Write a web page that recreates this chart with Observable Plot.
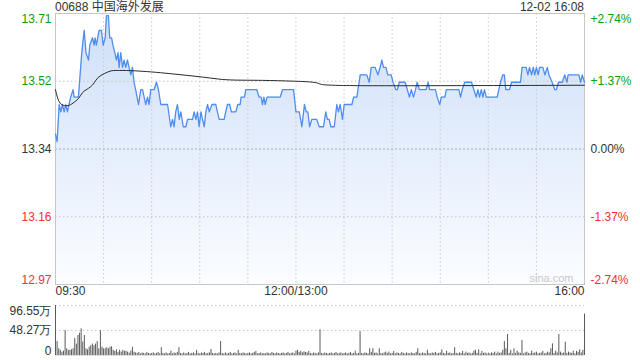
<!DOCTYPE html>
<html><head><meta charset="utf-8">
<script src="https://cdn.jsdelivr.net/npm/d3@7"></script>
<script src="https://cdn.jsdelivr.net/npm/@observablehq/plot@0.6"></script>
<style>
body{margin:0;background:#fff;font-family:Arial,"Liberation Sans","Noto Sans CJK SC",sans-serif;}
#wrap{position:relative;width:640px;height:360px;overflow:hidden;background:#fff}
#wrap svg{position:absolute;left:0}
.t{position:absolute;font-size:12px;color:#333;line-height:14px;z-index:2;white-space:nowrap}
</style></head><body>
<div id="wrap">
<div class="t" id="title" style="left:55px;top:0px"></div>
<div class="t" id="stamp" style="right:56px;top:0px"></div>
</div>
<script>
const stockTitle = "00688 中国海外发展";
const stamp = "12-02 16:08";
const prevClose = 13.34;
const pctSteps = [0.0274, 0.0137, 0, -0.0137, -0.0274];
const priceTickLabels = ["13.71", "13.52", "13.34", "13.16", "12.97"];
const pctTickLabels = ["+2.74%", "+1.37%", "0.00%", "-1.37%", "-2.74%"];
const timeTicks = [0, 150, 330];
const timeTickLabels = ["09:30", "12:00/13:00", "16:00"];
const gridTimes = [30, 60, 90, 120, 150, 180, 210, 240, 270, 300];
const volTicks = [96.55, 48.27, 0];
const volTickLabels = ["96.55万", "48.27万", "0"];

// minutes since 09:30 (lunch break removed) and price
const priceMin = [0,1,2.3,3.3,4.3,5.4,6.4,7.4,8.4,9.5,11,11.6,14.3,15,16.4,17.9,19,20.6,21.4,23.1,24.1,24.7,25.5,27.2,28.7,29.7,31,31.8,33,33.8,35,35.8,37,38,39,39.7,40.7,41.8,42.8,43.8,44.9,45.9,47,48,49,50,51.8,53.2,54.3,55.3,56.3,57.4,58.4,59.4,61.5,63,64.2,65.7,69.9,71.9,73,74,75,76.1,77.2,78.2,79.7,81.3,82.4,85.5,86.5,87.6,88.6,89.6,90.7,91.7,92.8,93.8,94.9,95.9,97.6,100,101,102.1,105.2,106.2,107.3,108.7,109.7,112.5,113.7,115.2,115.8,117.9,118.7,125.6,127,128.3,129.1,130,130.8,132,140.2,141.6,148.5,150,152.1,153.7,155.3,156.4,157.4,158.5,159.9,163,164.5,167.2,168.6,169.6,170.7,171.8,173.9,175.5,176.5,177.6,179,180.1,184.9,186,188,190.1,194.2,195.7,197,199.4,201.1,202.5,203.6,204.6,206.1,207.3,209.4,210.6,212.3,213.3,214.4,218.1,219.5,220.8,222,223.3,224.6,225.6,227,231.2,232.5,233.3,237,238.1,239.7,240.7,242.9,243.8,251.6,252.7,253.7,255.3,259.5,261,262.4,263.5,264.5,265.6,266.6,267.6,268.7,275.5,277.6,279,280,280.9,283.2,284.5,290.1,291.1,293.6,294.7,295.7,297,298,299,300,301.1,302,304,305.3,306.8,307.8,309.8,311.5,312.5,313.8,316.1,317.7,319,319.8,326.5,327.6,328.6,330];
const priceVal = [13.38,13.36,13.46,13.44,13.46,13.44,13.46,13.44,13.46,13.48,13.50,13.48,13.48,13.52,13.60,13.66,13.60,13.58,13.62,13.64,13.62,13.64,13.62,13.66,13.66,13.62,13.64,13.70,13.70,13.64,13.64,13.62,13.60,13.58,13.60,13.56,13.60,13.56,13.58,13.56,13.58,13.56,13.54,13.56,13.52,13.50,13.46,13.50,13.50,13.48,13.46,13.48,13.46,13.50,13.50,13.52,13.50,13.46,13.46,13.40,13.42,13.40,13.44,13.46,13.42,13.44,13.40,13.40,13.42,13.42,13.44,13.42,13.44,13.40,13.44,13.42,13.40,13.44,13.46,13.44,13.46,13.46,13.44,13.42,13.42,13.44,13.46,13.46,13.44,13.44,13.46,13.46,13.48,13.48,13.50,13.50,13.48,13.48,13.46,13.48,13.46,13.48,13.48,13.50,13.50,13.44,13.44,13.40,13.46,13.44,13.44,13.40,13.42,13.42,13.40,13.40,13.44,13.42,13.42,13.40,13.40,13.46,13.44,13.46,13.42,13.46,13.46,13.48,13.48,13.54,13.54,13.52,13.56,13.56,13.54,13.56,13.58,13.56,13.56,13.54,13.54,13.52,13.50,13.50,13.52,13.52,13.50,13.48,13.50,13.48,13.50,13.52,13.50,13.50,13.52,13.50,13.50,13.48,13.46,13.48,13.48,13.50,13.50,13.48,13.50,13.52,13.52,13.50,13.48,13.50,13.48,13.50,13.48,13.50,13.48,13.48,13.52,13.54,13.54,13.50,13.50,13.52,13.52,13.56,13.56,13.54,13.56,13.54,13.56,13.54,13.56,13.54,13.56,13.56,13.54,13.56,13.54,13.52,13.50,13.50,13.52,13.52,13.54,13.52,13.54,13.54,13.52,13.54,13.52];

const avgMin = [0,2.3,8.5,10.6,14.8,16.8,18.9,22,24.1,26.2,30.4,34.5,37.6,46,60.5,70.9,81.3,91.7,102.1,110.4,128.7,149.5,159.9,164,165.1,170.3,191,330];
const avgVal = [13.50,13.456,13.456,13.463,13.476,13.494,13.499,13.5075,13.517,13.534,13.5435,13.5515,13.552,13.552,13.548,13.5435,13.539,13.5343,13.528,13.5255,13.5255,13.523,13.521,13.518,13.514,13.512,13.510,13.512];

// volume per minute (万股), minute 0..330
const volume = [
96.55,27,13,10,6.5,8.4,48,13,10,10,
11,13,33,22,38.6,43,51.5,26,38.6,13,
11,16,19,22,19,22,27,13,48,16,
13,13,15,13,16,17,10,8,11,6,
10,6.5,10,8,8.4,6.5,4.5,8.4,16,6.5,
5,4,6,3,5,4,3,6,4,3,
4,5,3,4,6,3,15,4,3,5,
3,4,8.4,3,5,4,6,15,4,3,
5,3,4,6,3,4,5,3,10,4,
3,5,4,6,3,4,5,11.6,4,3,
4,3,5,27,4,3,5,3,4,6,
3,4,5,3,10,4,3,5,4,3,
4,5,3,4,6,8,3,4,5,3,
4,3,5,4,3,6,4,3,5,4,
3,4,5,3,4,6,3,4,5,3,
8.4,10,6,8,5,7,6,5,8,4,
3,5,4,3,5,49.5,4,3,5,4,
3,4,5,3,4,6,3,4,5,3,
4,5,3,4,6,3,4,8.4,3,4,
46,4,3,5,4,3,13,6,13,4,
5,3,13,4,3,5,6.5,4,6.5,3,
4,8,3,5,4,3,6,4,3,5,
4,3,5,4,3,6,13,4,3,5,
4,3,10,4,3,5,4,6,3,4,
5,11,4,3,8.4,4,5,3,4,15,
4,3,5,4,8,3,6.5,4,5,3,
4,8.4,10,4,11,3,8,4,5,3,
4.5,3,5,4,6.5,3,6.5,4,5,10,
27,13,40.5,4,10,3,13,4,8.4,5,
4,29,3,5,6.5,4,3,8.4,4,5,
6.5,3,4,5,8,3,4,6.5,5,13,
22.5,4,8.4,5,40.5,6.5,4,5,25.7,4,
6.5,5,4,8.4,3,8,6,11,5,10,
80];

document.getElementById("title").textContent = stockTitle;
document.getElementById("stamp").textContent = stamp;

const lo = prevClose * (1 + pctSteps[4]);
const hi = prevClose * (1 + pctSteps[0]);
const priceData = priceMin.map((t, i) => ({t, p: priceVal[i]}));
const avgData = avgMin.map((t, i) => ({t, p: avgVal[i]}));
const volData = volume.map((v, t) => ({t, v}));
const ticks = pctSteps.map((s, i) => ({
  y: prevClose * (1 + s), left: priceTickLabels[i], right: pctTickLabels[i],
  c: s > 0 ? "#0b9e0b" : s < 0 ? "#f03232" : "#333", i
}));
const xt = timeTicks.map((t, i) => ({t, label: timeTickLabels[i], i}));
const grid = "#c8c8c8";
const fontStyle = {fontFamily: "Arial, 'Liberation Sans', sans-serif", fontSize: "12px", background: "transparent"};

const price = Plot.plot({
  width: 640, height: 300, marginLeft: 55, marginRight: 56, marginTop: 13, marginBottom: 16,
  style: fontStyle,
  x: {domain: [0, 330], axis: null},
  y: {domain: [lo, hi], axis: null},
  color: {type: "identity"},
  marks: [
    Plot.areaY(priceData, {x: "t", y1: lo, y2: "p", fill: "url(#pg)", curve: "linear"}),
    Plot.ruleX(gridTimes, {x: d => d, stroke: grid, strokeDasharray: "1.5,2.5"}),
    Plot.ruleY(ticks.filter(d => d.i > 0 && d.i < 4 && d.i !== 2), {y: "y", stroke: grid, strokeDasharray: "1.5,2.5"}),
    Plot.ruleY(ticks.filter(d => d.i === 2), {y: "y", stroke: "#aaa", strokeDasharray: "2,2"}),
    Plot.frame({stroke: "#c6c6c6"}),
    Plot.line(priceData, {x: "t", y: "p", stroke: "#4f8def", strokeWidth: 1.3}),
    Plot.line(avgData, {x: "t", y: "p", stroke: "#2a2a2a", strokeWidth: 1, curve: "basis"}),
    Plot.text(ticks.filter(d => d.i === 0), {y: "y", text: "left", fill: "c", frameAnchor: "left", textAnchor: "end", dx: -4, lineAnchor: "top", dy: 1}),
    Plot.text(ticks.filter(d => d.i > 0 && d.i < 4), {y: "y", text: "left", fill: "c", frameAnchor: "left", textAnchor: "end", dx: -4, lineAnchor: "middle"}),
    Plot.text(ticks.filter(d => d.i === 4), {y: "y", text: "left", fill: "c", frameAnchor: "left", textAnchor: "end", dx: -4, lineAnchor: "bottom", dy: -1}),
    Plot.text(ticks.filter(d => d.i === 0), {y: "y", text: "right", fill: "c", frameAnchor: "right", textAnchor: "start", dx: 6, lineAnchor: "top", dy: 1}),
    Plot.text(ticks.filter(d => d.i > 0 && d.i < 4), {y: "y", text: "right", fill: "c", frameAnchor: "right", textAnchor: "start", dx: 6, lineAnchor: "middle"}),
    Plot.text(ticks.filter(d => d.i === 4), {y: "y", text: "right", fill: "c", frameAnchor: "right", textAnchor: "start", dx: 6, lineAnchor: "bottom", dy: -1}),
    Plot.text(xt.filter(d => d.i === 0), {x: "t", text: "label", frameAnchor: "bottom", textAnchor: "start", dy: 10, fill: "#333"}),
    Plot.text(xt.filter(d => d.i === 1), {x: "t", text: "label", frameAnchor: "bottom", textAnchor: "middle", dy: 10, fill: "#333"}),
    Plot.text(xt.filter(d => d.i === 2), {x: "t", text: "label", frameAnchor: "bottom", textAnchor: "end", dy: 10, fill: "#333"}),
    Plot.text(["sina.com"], {frameAnchor: "bottom-right", textAnchor: "end", lineAnchor: "bottom", dx: -11, dy: -3, fill: "#c8c8c8", fontSize: 11})
  ]
});
const ns = "http://www.w3.org/2000/svg";
const defs = document.createElementNS(ns, "defs");
defs.innerHTML = '<linearGradient id="pg" x1="0" y1="0" x2="0" y2="1"><stop offset="0" stop-color="#cfdff9"/><stop offset="1" stop-color="#fbfdff"/></linearGradient>';
price.prepend(defs);
price.style.top = "0px";

const vt = volTicks.map((v, i) => ({v, label: volTickLabels[i], i}));
const vol = Plot.plot({
  width: 640, height: 60, marginLeft: 55, marginRight: 56, marginTop: 5, marginBottom: 5,
  style: fontStyle,
  x: {domain: [0, 330], axis: null},
  y: {domain: [0, volTicks[0]], axis: null},
  marks: [
    Plot.ruleY(vt.filter(d => d.i < 2), {y: "v", x1: 0, x2: 330, stroke: grid, strokeDasharray: "1.5,2.5"}),
    Plot.ruleY([0], {x1: 0, x2: 330, stroke: "#ddd"}),
    Plot.ruleX(volData, {x: "t", y1: 0, y2: "v", stroke: "#5a5a5a", strokeWidth: 1}),
    Plot.text(vt.filter(d => d.i === 0), {y: "v", text: "label", frameAnchor: "left", textAnchor: "end", dx: -4, lineAnchor: "top", dy: 1, fill: "#333"}),
    Plot.text(vt.filter(d => d.i === 1), {y: "v", text: "label", frameAnchor: "left", textAnchor: "end", dx: -4, lineAnchor: "middle", fill: "#333"}),
    Plot.text(vt.filter(d => d.i === 2), {y: "v", text: "label", frameAnchor: "left", textAnchor: "end", dx: -4, lineAnchor: "bottom", dy: -1, fill: "#333"})
  ]
});
vol.style.top = "300px";

const wrap = document.getElementById("wrap");
wrap.prepend(vol);
wrap.prepend(price);
</script>
</body></html>
